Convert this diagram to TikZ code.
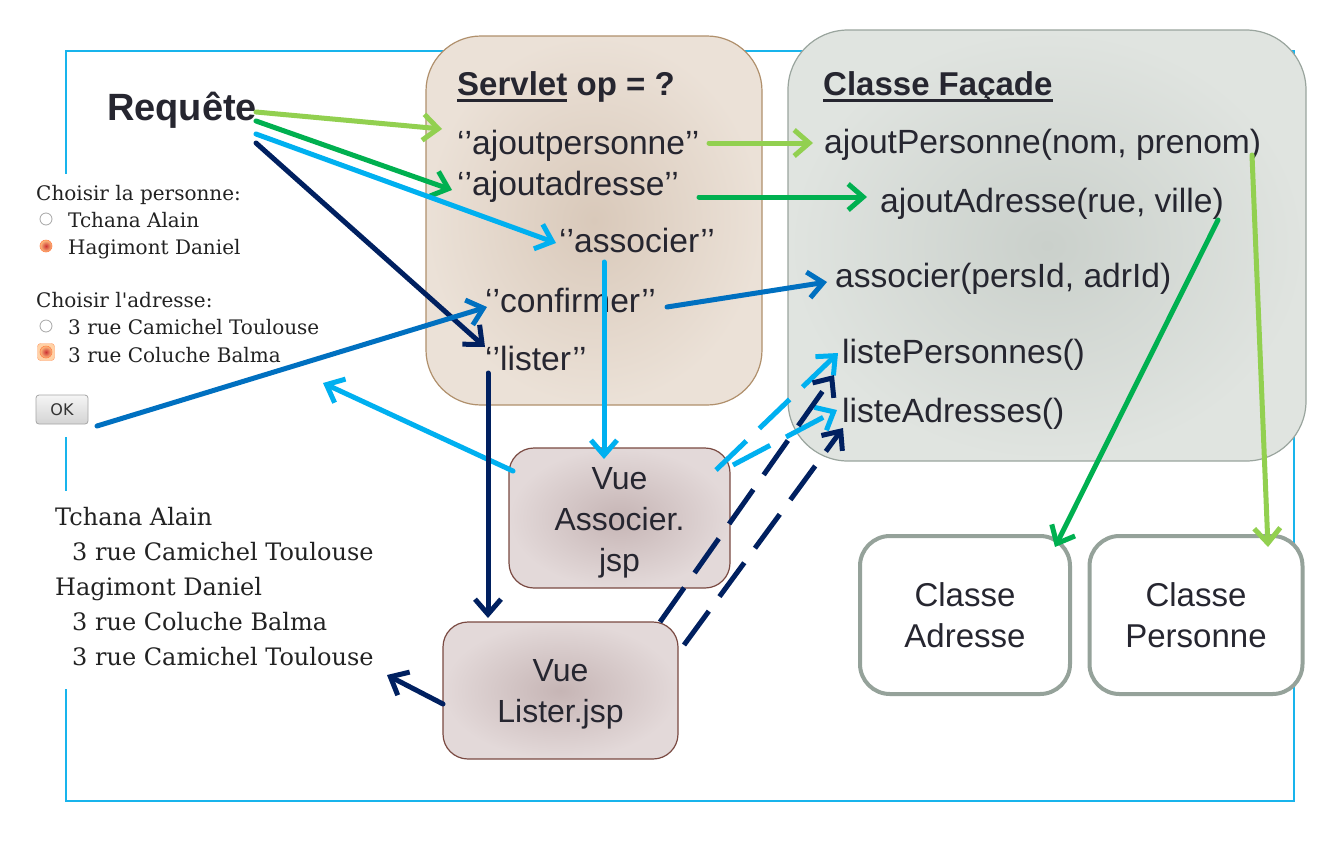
\documentclass[tikz,border=0pt]{standalone}
\usepackage{fontspec}
\setmainfont{Liberation Sans}
\newfontfamily\formfont{DejaVu Serif}
\newfontfamily\btnfont{DejaVu Sans}
\usetikzlibrary{arrows.meta}
\definecolor{ink}{HTML}{262630}
\definecolor{lgreen}{HTML}{92D050}
\definecolor{dgreen}{HTML}{00B050}
\definecolor{cyanb}{HTML}{00B0F0}
\definecolor{blueb}{HTML}{0070C0}
\definecolor{navy}{HTML}{002060}
\definecolor{framec}{HTML}{18B4EC}
\definecolor{svin}{HTML}{D9C9BA}
\definecolor{svout}{HTML}{EBE1D7}
\definecolor{svline}{HTML}{B0906C}
\definecolor{fcin}{HTML}{CAD0CB}
\definecolor{fcout}{HTML}{E0E4E0}
\definecolor{fcline}{HTML}{9AA59E}
\definecolor{vuin}{HTML}{C6B5B5}
\definecolor{vuout}{HTML}{E3D9D9}
\definecolor{vuline}{HTML}{7A4A42}
\definecolor{clline}{HTML}{95A29A}
\definecolor{formink}{HTML}{222222}
\tikzset{
  conn/.style={line width=5pt, line cap=round, -{Straight Barb[length=15pt,width=26pt]}},
  dconn/.style={conn, line cap=butt, dash pattern=on 42pt off 18pt},
  lbl/.style={inner sep=0pt, anchor=base west, text=ink, font=\fontsize{33.6}{40}\selectfont},
  ttl/.style={inner sep=0pt, anchor=base west, text=ink, font=\fontsize{33}{40}\selectfont\bfseries},
  svbox/.style={draw=svline, line width=1.2pt, rounded corners=55pt, inner color=svin, outer color=svout},
  fcbox/.style={draw=fcline, line width=1.2pt, rounded corners=60pt, inner color=fcin, outer color=fcout},
  vubox/.style={draw=vuline, line width=1.2pt, rounded corners=25pt, inner color=vuin, outer color=vuout},
  vutext/.style={inner sep=0pt, align=center, text=ink, font=\fontsize{32}{41}\selectfont},
  clbox/.style={draw=clline, line width=4pt, rounded corners=30pt, fill=white,
     align=center, text=ink, font=\fontsize{33}{41}\selectfont},
  formtxt/.style={inner sep=0pt, anchor=base west, text=formink, font=\formfont\fontsize{20}{24}\selectfont},
  listtxt/.style={inner sep=0pt, anchor=base west, text=formink, font=\formfont\fontsize{24}{28}\selectfont},
  radioempty/.style={circle, draw=black!35, fill=white, line width=0.8pt, minimum size=12pt, inner sep=0pt},
  radiofull/.style={circle, draw=orange!60!red!70, inner color=red!75!black!80, outer color=orange!50!white, line width=0.6pt, minimum size=12pt, inner sep=0pt},
}
\begin{document}
\begin{tikzpicture}[x=1pt,y=-1pt]
\useasboundingbox (0,0) rectangle (1333,844);
\fill[white] (0,0) rectangle (1333,844);
% frame
\draw[framec, line width=1.3pt] (66,51) rectangle (1294,801);
% screenshot backgrounds
\fill[white] (24,174) rectangle (334,437);
\fill[white] (44,491) rectangle (386,689);

% boxes
\node[svbox, minimum width=336pt, minimum height=369pt] (servlet) at (594,220.5) {};
\node[fcbox, minimum width=518pt, minimum height=431pt] (facade) at (1047,245.5) {};
\node[vubox, minimum width=221pt, minimum height=140pt] (vueassoc) at (619.5,518) {};
\node[vutext] (vueassoc-t) at (619.5,523) {Vue\\Associer.\\jsp};
\node[vubox, minimum width=235pt, minimum height=137pt] (vuelist) at (560.5,690.5) {};
\node[vutext] (vuelist-t) at (560.5,694.5) {Vue\\Lister.jsp};
\node[clbox, minimum width=210pt, minimum height=158pt] (cladr) at (965,615) {Classe\\Adresse};
\node[clbox, minimum width=213pt, minimum height=158pt] (clpers) at (1196,615) {Classe\\Personne};

% titles
\node[ttl, font=\fontsize{38}{44}\selectfont\bfseries] (req) at (107,120) {Requête};
\node[ttl] (sv) at (457,95) {Servlet};
\node[ttl, anchor=base west] (svop) at ([xshift=9pt]sv.base east) {op = ?};
\draw[ink, line width=3pt] ([yshift=-5.5pt]sv.base west) -- ([yshift=-5.5pt]sv.base east);
\node[ttl] (cf) at (823,95) {Classe Façade};
\draw[ink, line width=3pt] ([yshift=-5.5pt]cf.base west) -- ([yshift=-5.5pt]cf.base east);

% servlet items
\node[lbl] (ap) at (457,154) {‘’ajoutpersonne’’};
\node[lbl] (aa) at (457,195) {‘’ajoutadresse’’};
\node[lbl] (as) at (559,252) {‘’associer’’};
\node[lbl] (co) at (485,312) {‘’confirmer’’};
\node[lbl] (li) at (485,370) {‘’lister’’};

% facade items
\node[lbl] (fap) at (824,153) {ajoutPersonne(nom, prenom)};
\node[lbl] (faa) at (880,212) {ajoutAdresse(rue, ville)};
\node[lbl] (fas) at (835,287) {associer(persId, adrId)};
\node[lbl] (flp) at (842,363) {listePersonnes()};
\node[lbl] (fla) at (842,422) {listeAdresses()};

% form screenshot
\node[formtxt] (f1) at (36,200) {Choisir la personne:};
\node[radioempty] (r1) at (46,219) {};
\node[formtxt] (f2) at (68,227) {Tchana Alain};
\node[radiofull] (r2) at (46,246) {};
\node[formtxt] (f3) at (68,254) {Hagimont Daniel};
\node[formtxt] (f4) at (36,307) {Choisir l'adresse:};
\node[radioempty] (r3) at (46,326) {};
\node[formtxt] (f5) at (68,334) {3 rue Camichel Toulouse};
\node[draw=orange!70!red!60, fill=orange!35!white, rounded corners=3pt, minimum size=17pt, inner sep=0pt] (r4f) at (46,352) {};
\node[radiofull] (r4) at (46,352) {};
\node[formtxt] (f6) at (68,362) {3 rue Coluche Balma};
\node[draw=black!35, line width=0.8pt, rounded corners=3pt, top color=black!4, bottom color=black!17,
      minimum width=52pt, minimum height=29pt, inner sep=0pt, text=black!80,
      font=\btnfont\fontsize{16}{18}\selectfont] (ok) at (62,409.5) {OK};

% list screenshot
\node[listtxt] (l1) at (55,525) {Tchana Alain};
\node[listtxt] (l2) at (72,560) {3 rue Camichel Toulouse};
\node[listtxt] (l3) at (55,595) {Hagimont Daniel};
\node[listtxt] (l4) at (72,630) {3 rue Coluche Balma};
\node[listtxt] (l5) at (72,665) {3 rue Camichel Toulouse};

% connector end points
\coordinate (req-1) at (256,112);  \coordinate (ap-in) at (442,129);
\coordinate (req-2) at (256,121);  \coordinate (aa-in) at (452,190);
\coordinate (req-3) at (256,134);  \coordinate (as-in) at (556,243);
\coordinate (req-4) at (256,143);  \coordinate (li-in) at (485,347);
\coordinate (ok-out) at (97,426);  \coordinate (co-in) at (487,307);
\coordinate (vueassoc-out) at (513,471); \coordinate (form-in) at (323,383);
\coordinate (as-out) at (604,262); \coordinate (vueassoc-in) at (604,459);
\coordinate (li-out) at (488,373); \coordinate (vuelist-in) at (488,618);
\coordinate (vuelist-out) at (443,704); \coordinate (list-in) at (387,675);
\coordinate (ap-out) at (709,143); \coordinate (fap-in) at (813,143);
\coordinate (aa-out) at (699,197); \coordinate (faa-in) at (867,197);
\coordinate (co-out) at (667,307); \coordinate (fas-in) at (827,282);
\coordinate (vueassoc-o1) at (716,470); \coordinate (flp-in1) at (838,353);
\coordinate (vueassoc-o2) at (733,465); \coordinate (fla-in1) at (837,410);
\coordinate (vuelist-o1) at (660,622); \coordinate (flp-in2) at (834,375);
\coordinate (vuelist-o2) at (684,645); \coordinate (fla-in2) at (843,428);
\coordinate (faa-out) at (1218,220); \coordinate (cladr-in) at (1055,547);
\coordinate (fap-out) at (1252,155); \coordinate (clpers-in) at (1268,547);

% connectors
\draw[conn, lgreen] (req-1) -- (ap-in);
\draw[conn, dgreen] (req-2) -- (aa-in);
\draw[conn, cyanb] (req-3) -- (as-in);
\draw[conn, navy] (req-4) -- (li-in);
\draw[conn, blueb] (ok-out) -- (co-in);
\draw[conn, cyanb] (vueassoc-out) -- (form-in);
\draw[conn, cyanb] (as-out) -- (vueassoc-in);
\draw[conn, navy] (li-out) -- (vuelist-in);
\draw[conn, navy] (vuelist-out) -- (list-in);
\draw[conn, lgreen] (ap-out) -- (fap-in);
\draw[conn, dgreen] (aa-out) -- (faa-in);
\draw[conn, blueb] (co-out) -- (fas-in);
\draw[dconn, cyanb] (vueassoc-o1) -- (flp-in1);
\draw[dconn, cyanb] (vueassoc-o2) -- (fla-in1);
\draw[dconn, navy] (vuelist-o1) -- (flp-in2);
\draw[dconn, navy] (vuelist-o2) -- (fla-in2);
\draw[conn, dgreen] (faa-out) -- (cladr-in);
\draw[conn, lgreen] (fap-out) -- (clpers-in);
\end{tikzpicture}
\end{document}
